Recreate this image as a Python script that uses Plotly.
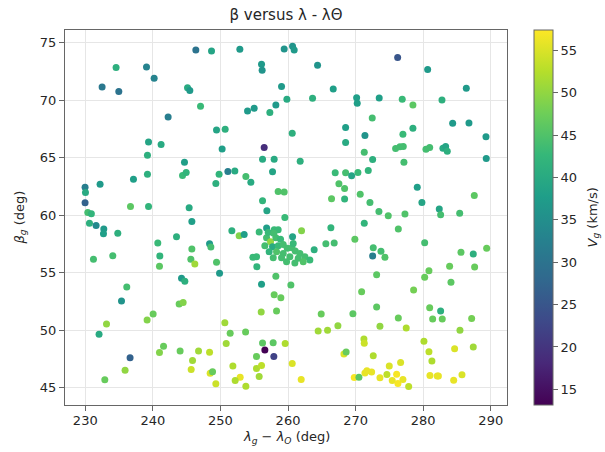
import plotly.graph_objects as go

# ---- data: (lambda_g - lambda_sun, beta_g, V_g) ----
lam = [
    246.36, 248.68, 234.56, 239.06, 240.19, 232.49, 234.96, 245.13, 245.47, 247.05,
    242.26, 249.42, 250.70, 239.36, 241.22, 250.25, 239.20, 244.68, 251.10, 239.20,
    244.39, 244.93, 249.80, 237.13, 232.19, 249.32, 229.97, 230.03, 229.97, 230.37,
    230.90, 236.69, 239.36, 245.37,
    252.87, 259.43, 260.67, 260.91, 256.08, 256.17, 264.37, 259.04, 266.69, 259.83,
    263.63, 270.15, 270.24, 273.49, 258.20, 254.99, 254.01, 257.31, 272.46, 260.62,
    268.52, 271.38, 268.52, 256.47, 256.23, 257.95, 261.80, 271.28, 272.52, 252.13,
    257.71, 266.98, 268.52, 269.41, 270.34, 271.87, 253.76, 254.50, 267.53, 268.37,
    270.68, 258.54, 259.43, 256.23, 256.87, 266.44, 268.37, 272.12, 273.45, 259.53,
    276.22, 280.66, 286.38, 276.90, 278.48, 282.78, 284.36, 286.77, 278.48, 277.00,
    289.29, 275.92, 276.56, 277.05, 280.41, 280.96, 282.92, 283.32, 283.56, 277.15,
    289.33, 279.12, 287.56, 279.81, 282.38, 282.58, 285.40, 274.83, 277.30,
    230.62, 231.60, 232.74, 232.69, 234.81, 245.77, 240.73, 243.50, 245.77, 248.39,
    248.58, 231.21, 234.07, 241.03, 240.98, 245.62, 246.21, 249.42, 249.87, 244.24,
    244.73, 236.14, 235.36, 243.89, 244.48, 240.04, 239.15, 233.14, 232.04, 250.65,
    251.44, 241.58, 240.98, 244.03, 246.76, 248.39, 250.85, 236.63, 245.87, 235.89,
    245.67, 248.48, 248.83, 232.89, 249.32,
    271.28, 251.69, 252.77, 253.51, 255.73, 256.83, 257.95, 258.54, 260.67, 262.00,
    266.34, 269.89, 265.60, 266.83, 263.87, 272.61, 273.75, 272.52, 254.80, 255.39,
    258.20, 256.08, 260.42, 273.11, 257.95, 258.94, 270.89, 256.03, 258.30, 264.91,
    269.60, 273.11, 273.60, 253.72, 264.46, 265.85, 267.38, 256.23, 257.80, 259.58,
    256.57, 257.90, 255.34, 251.84, 255.34, 256.08, 260.62, 252.92, 252.18, 253.76,
    255.73, 261.95, 268.27, 268.60, 271.23, 271.28, 272.61, 269.80, 270.49, 271.38,
    271.67, 272.37, 273.60,
    276.32, 280.22, 274.34, 285.59, 287.41, 289.39, 283.91, 287.61, 280.85, 280.22,
    284.11, 278.58, 280.96, 282.58, 281.40, 282.82, 276.32, 287.17, 277.49, 285.44,
    280.11, 280.85, 284.65, 287.41, 281.29, 276.66, 274.98, 274.63, 276.07, 275.42,
    276.26, 277.00, 277.85, 281.00, 282.08, 282.25, 284.51, 285.74,
    256.82, 257.41, 258.20, 258.89, 256.57, 257.71, 258.55, 259.29, 259.88, 260.57,
    258.30, 259.29, 261.07, 261.76, 257.81, 259.04, 260.27, 261.51, 262.49, 263.23,
    262.25, 259.78, 257.21, 260.77, 255.34, 261.01, 257.07, 257.90,
]

beta = [
    74.36, 74.27, 72.83, 72.88, 71.90, 71.15, 70.75, 71.09, 70.83, 69.47,
    68.54, 67.41, 67.47, 66.37, 66.15, 65.76, 65.22, 64.61, 63.80, 63.57,
    63.45, 63.72, 63.57, 63.13, 62.70, 62.76, 62.44, 61.98, 61.08, 60.24,
    60.12, 60.76, 60.76, 60.64,
    74.42, 74.44, 74.68, 74.36, 73.12, 72.60, 73.03, 71.18, 70.97, 70.08,
    70.16, 70.22, 69.73, 70.19, 69.58, 69.30, 69.06, 68.92, 68.46, 67.13,
    67.62, 66.93, 66.32, 65.89, 64.87, 64.87, 64.70, 65.48, 64.84, 63.85,
    63.77, 63.68, 63.68, 63.42, 63.71, 63.89, 63.37, 62.87, 62.73, 62.33,
    61.83, 62.07, 62.01, 61.25, 60.38, 61.42, 61.40, 61.11, 60.33, 59.81,
    73.70, 72.66, 71.03, 70.08, 69.58, 70.02, 68.00, 68.02, 67.56, 67.04,
    66.81, 65.80, 65.94, 65.97, 65.74, 65.89, 65.83, 65.97, 65.56, 64.61,
    64.93, 62.44, 61.72, 61.11, 60.53, 60.03, 60.18, 59.95, 60.10,
    59.31, 59.11, 58.79, 58.39, 58.42, 59.46, 57.58, 58.12, 57.06, 57.52,
    57.23, 56.16, 56.48, 56.45, 55.56, 56.16, 55.75, 55.90, 54.95, 54.51,
    54.25, 53.76, 52.54, 52.28, 52.40, 51.41, 50.89, 50.55, 49.65, 50.66,
    49.74, 48.61, 48.06, 48.20, 48.20, 48.09, 48.84, 47.60, 47.36, 46.53,
    46.58, 46.27, 46.38, 45.69, 45.34,
    59.31, 58.65, 58.21, 58.33, 58.53, 58.88, 58.73, 58.73, 58.12, 58.65,
    58.91, 57.92, 57.52, 57.58, 57.00, 57.17, 56.86, 56.45, 56.34, 55.52,
    54.69, 53.99, 53.93, 54.83, 53.09, 52.83, 53.35, 51.59, 51.68, 51.41,
    51.44, 52.02, 50.35, 49.85, 49.94, 50.00, 50.40, 48.90, 48.92, 48.84,
    48.29, 47.71, 47.71, 46.90, 46.67, 46.93, 47.10, 45.92, 45.63, 45.14,
    45.97, 45.71, 47.94, 48.10, 49.24, 48.87, 47.79, 45.88, 45.92, 46.29,
    46.47, 46.36, 45.86,
    58.79, 57.60, 56.34, 56.77, 56.62, 57.12, 55.56, 55.50, 55.17, 54.60,
    54.17, 53.50, 51.96, 51.68, 50.98, 50.98, 51.07, 51.01, 50.20, 50.00,
    49.04, 48.14, 48.40, 48.55, 47.33, 47.19, 46.88, 46.15, 46.18, 45.63,
    45.36, 45.71, 45.10, 46.06, 46.03, 46.03, 45.66, 46.12,
    58.04, 57.69, 58.04, 57.92, 57.35, 57.26, 57.35, 57.46, 57.12, 57.17,
    56.83, 56.68, 56.88, 56.68, 56.30, 56.30, 56.39, 56.25, 56.39, 56.10,
    55.96, 55.96, 56.83, 57.55, 56.39, 55.84, 58.50, 58.42,
]

vg = [
    30, 39, 41, 33, 33, 31, 30, 40, 37, 43,
    32, 39, 41, 39, 40, 38, 41, 38, 32, 41,
    43, 42, 42, 38, 37, 41, 32, 40, 27, 44,
    42, 46, 42, 40,
    37, 36, 36, 37, 37, 36, 36, 37, 38, 40,
    41, 38, 38, 38, 37, 37, 37, 41, 44, 41,
    38, 36, 40, 19, 40, 40, 41, 44, 41, 40,
    39, 43, 44, 39, 43, 42, 44, 40, 45, 45,
    45, 45, 45, 42, 39, 46, 42, 44, 44, 43,
    25, 37, 37, 43, 46, 41, 37, 37, 41, 43,
    37, 44, 44, 44, 44, 44, 40, 39, 41, 44,
    37, 38, 46, 39, 39, 44, 44, 45, 45,
    41, 34, 37, 38, 41, 38, 43, 41, 45, 37,
    44, 44, 44, 42, 46, 45, 51, 45, 37, 37,
    41, 44, 36, 47, 49, 47, 49, 50, 40, 51,
    47, 47, 49, 47, 51, 53, 51, 27, 51, 50,
    54, 55, 47, 47, 54,
    42, 41, 49, 38, 43, 38, 43, 43, 39, 49,
    42, 46, 44, 44, 41, 44, 44, 32, 43, 42,
    45, 38, 45, 46, 47, 47, 47, 50, 47, 47,
    46, 46, 50, 47, 51, 51, 50, 46, 46, 52,
    13.2, 22, 47, 52, 52, 53, 55, 56, 52, 52,
    51, 56, 55, 47, 52, 54, 52, 57, 46, 56,
    56, 56, 56,
    45, 44, 45, 46, 41, 47, 47, 47, 47, 47,
    46, 48, 47, 41, 47, 47, 47, 48, 52, 50,
    52, 53, 55, 51, 52, 55, 55, 53, 57, 56,
    57, 56, 53, 56, 56, 56, 56, 55,
    44, 50, 44, 43, 44, 40, 43, 44, 44, 44,
    45, 44, 44, 44, 44, 44, 44, 44, 44, 43,
    45, 44, 42, 43, 43, 44, 43, 44,
]

x_ticks = [230, 240, 250, 260, 270, 280, 290]
y_ticks = [45, 50, 55, 60, 65, 70, 75]
c_ticks = [15, 20, 25, 30, 35, 40, 45, 50, 55]

title_text = "β versus λ - λΘ"
x_label = "<i>λ</i><sub><i>g</i></sub> − <i>λ</i><sub><i>O</i></sub> (deg)"
y_label = "<i>β</i><sub><i>g</i></sub> (deg)"
cbar_label = "<i>V</i><sub><i>g</i></sub> (km/s)"

FONT = "DejaVu Sans"
AXC = "#666666"
TXT = "#262626"
W, H = 605, 452
L, R, T, B = 65, 98, 30, 47
PW, PH = W - L - R, H - T - B

fig = go.Figure(
    go.Scatter(
        x=lam, y=beta, mode="markers",
        marker=dict(
            size=7, color=vg, colorscale="Viridis", cmin=13.15, cmax=57.4,
            line=dict(width=0),
            colorbar=dict(
                x=(534 - L) / PW, xanchor="left", xref="paper", xpad=0,
                y=0.5, yanchor="middle", len=1.0, lenmode="fraction", ypad=0,
                thickness=19, outlinecolor=AXC, outlinewidth=1,
                ticks="outside", ticklen=5, tickcolor=AXC,
                tickvals=c_ticks,
                tickfont=dict(family=FONT, size=13, color=TXT),
            ),
        ),
        showlegend=False,
    )
)

fig.update_layout(
    width=W, height=H,
    margin=dict(l=L, r=R, t=T, b=B, autoexpand=False),
    paper_bgcolor="white", plot_bgcolor="white",
    font=dict(family=FONT, size=13, color=TXT),
    title=dict(text=title_text, x=0.5, xref="paper", xanchor="center",
               y=1 - 15 / H, yref="container", yanchor="middle",
               font=dict(family=FONT, size=15, color=TXT)),
    xaxis=dict(
        range=[227.0, 292.4], tickvals=x_ticks,
        showgrid=True, gridcolor="#e6e6e6", gridwidth=1, zeroline=False,
        showline=True, mirror=True, linecolor=AXC, linewidth=1,
        ticks="outside", ticklen=5, tickcolor=AXC, ticklabelstandoff=-2,
        tickfont=dict(family=FONT, size=13, color=TXT),
        automargin=False,
    ),
    yaxis=dict(
        range=[43.5, 76.1], tickvals=y_ticks,
        showgrid=True, gridcolor="#e6e6e6", gridwidth=1, zeroline=False,
        showline=True, mirror=True, linecolor=AXC, linewidth=1,
        ticks="outside", ticklen=5, tickcolor=AXC,
        tickfont=dict(family=FONT, size=13, color=TXT),
        automargin=False,
    ),
    annotations=[
        dict(text=x_label, xref="paper", yref="paper", x=0.5, y=-(437 - (H - B)) / PH,
             xanchor="center", yanchor="middle", showarrow=False,
             font=dict(family=FONT, size=13, color=TXT)),
        dict(text=y_label, xref="paper", yref="paper", x=-(L - 20) / PW, y=0.5,
             xanchor="center", yanchor="middle", showarrow=False, textangle=-90,
             font=dict(family=FONT, size=13, color=TXT)),
        dict(text=cbar_label, xref="paper", yref="paper", x=(593 - L) / PW, y=0.5,
             xanchor="center", yanchor="middle", showarrow=False, textangle=-90,
             font=dict(family=FONT, size=13, color=TXT)),
    ],
)

fig.write_html(
    "out.html",
    config={"displayModeBar": False},
    post_script="document.body.style.margin='0';document.body.style.padding='0';",
)
